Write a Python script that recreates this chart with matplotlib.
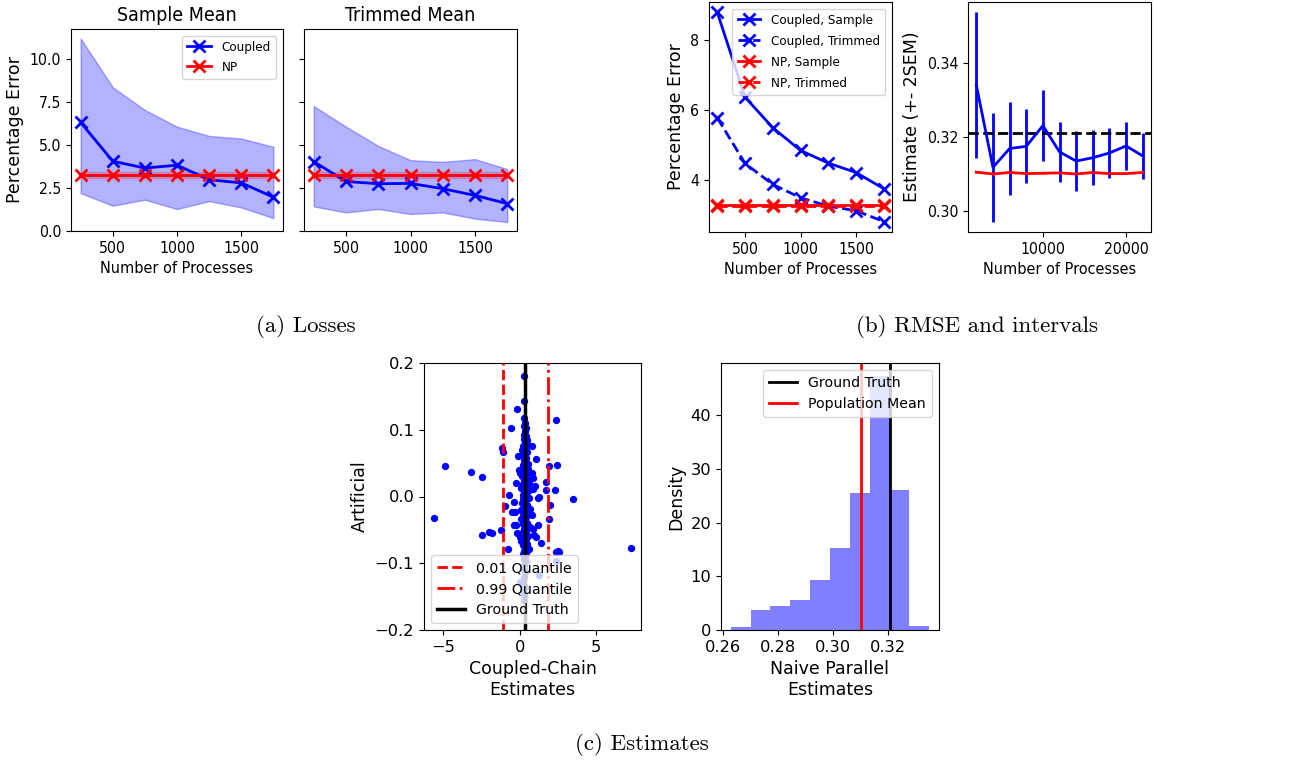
import numpy as np
import matplotlib
matplotlib.use("Agg")
import matplotlib.pyplot as plt
from matplotlib import font_manager

plt.rcParams["font.family"] = ["DejaVu Sans"]

# ---- (a) losses ----
n_proc = [250, 500, 750, 1000, 1250, 1500, 1750]
sample_coupled = [6.32, 4.06, 3.66, 3.83, 2.98, 2.80, 1.97]
sample_upper = [11.2, 8.36, 7.04, 6.07, 5.53, 5.38, 4.90]
sample_lower = [2.20, 1.47, 1.82, 1.28, 1.74, 1.37, 0.75]
trim_coupled = [4.04, 2.88, 2.75, 2.77, 2.46, 2.07, 1.59]
trim_upper = [7.27, 6.07, 4.95, 4.12, 4.02, 4.18, 3.60]
trim_lower = [1.43, 1.08, 1.28, 0.99, 1.08, 0.72, 0.52]
np_err = [3.25, 3.25, 3.25, 3.25, 3.25, 3.25, 3.25]
np_upper = [3.42, 3.42, 3.42, 3.42, 3.42, 3.42, 3.42]
np_lower = [3.08, 3.08, 3.08, 3.08, 3.08, 3.08, 3.08]

# ---- (b) RMSE and intervals ----
rmse_coupled_sample = [8.78, 6.36, 5.49, 4.84, 4.48, 4.21, 3.75]
rmse_coupled_trim = [5.77, 4.47, 3.87, 3.49, 3.25, 3.12, 2.81]
rmse_np_sample = [3.27, 3.27, 3.27, 3.27, 3.27, 3.27, 3.27]
rmse_np_trim = [3.24, 3.24, 3.24, 3.24, 3.24, 3.24, 3.24]

n_big = [2000, 4000, 6000, 8000, 10000, 12000, 14000, 16000, 18000, 20000, 22000]
est_coupled = [0.3341, 0.3118, 0.3169, 0.3175, 0.3231, 0.3160, 0.3135, 0.3144, 0.3157, 0.3176, 0.3149]
sem2_coupled = [0.0197, 0.0147, 0.0125, 0.0100, 0.0097, 0.0081, 0.0081, 0.0074, 0.0069, 0.0066, 0.0062]
est_np = [0.3105, 0.3100, 0.3104, 0.3101, 0.3102, 0.3103, 0.3100, 0.3104, 0.3101, 0.3101, 0.3104]
sem2_np = [0.0003, 0.0002, 0.0002, 0.0002, 0.0001, 0.0001, 0.0001, 0.0001, 0.0001, 0.0001, 0.0001]
ground_truth = 0.321

# ---- (c) estimates ----
scatter_x = [
    0.31, 0.26, -0.18, 2.38, -0.59, 0.81, -1.14, -1.10, -0.11, 1.09, -4.90, 1.90, 2.47,
    -3.22, -2.45, 1.69, -0.22, 2.28, 1.75, -0.70, 1.23, 3.48, 0.90, 0.77, 0.52, 0.98,
    0.87, 0.48, 0.39, 0.15, -5.63, -2.48, -2.00, -1.79, -1.25, -1.00, -0.78, -0.39,
    -0.52, -0.35, -0.33, 1.20, 1.90, 1.95, 1.18, 1.40, 0.92, 1.09, 0.87, 0.80, 0.66,
    2.40, 2.48, 2.58, 7.30, 1.25, 2.40, 0.04, 0.26, 0.37, 0.26, -0.22, -0.15, 0.00,
    -0.05, 0.00, 0.05,
    0.30, 0.33, 0.28, 0.36, 0.31, 0.42, 0.27, 0.35, 0.45, 0.24, 0.38, 0.30, 0.50, 0.20,
    0.33, 0.42, 0.26, 0.37, 0.55, 0.18, 0.31, 0.44, 0.22, 0.35, 0.60, 0.27, 0.40, 0.15,
    0.33, 0.48, 0.25, 0.38, 0.62, 0.20, 0.30, 0.45, 0.10, 0.35, 0.52, 0.25, 0.40, 0.18,
    0.32, 0.58, 0.22, 0.37, 0.12, 0.30, 0.47, 0.26, 0.40, 0.16, 0.34, 0.55, 0.23, 0.38,
    0.08, 0.31, 0.50, 0.20, 0.36, 0.65, 0.27, 0.42, 0.14, 0.33, 0.56, 0.24, 0.39, 0.10,
    0.30, 0.47, 0.20, 0.35, 0.60, 0.28, 0.42, 0.18, 0.33, 0.25, 0.38, 0.30, 0.22, 0.35,
    0.28, 0.32, 0.30, 0.20,
]
scatter_y = [
    0.180, 0.143, 0.131, 0.115, 0.103, 0.076, 0.073, 0.066, 0.060, 0.056, 0.045, 0.046, 0.047,
    0.037, 0.029, 0.021, 0.020, 0.010, 0.010, 0.002, -0.001, -0.003, 0.027, 0.035, 0.041, 0.015,
    0.011, 0.085, 0.102, 0.070, -0.032, -0.057, -0.053, -0.055, -0.050, -0.014, -0.078, -0.008,
    -0.023, -0.042, -0.023, -0.002, -0.034, -0.012, -0.042, -0.070, -0.058, -0.060, -0.048, -0.028, -0.018,
    -0.083, -0.082, -0.083, -0.077, -0.118, -0.096, -0.128, -0.148, -0.083, -0.070, -0.042, -0.055, -0.060,
    0.040, 0.035, -0.020,
    0.118, 0.110, 0.105, 0.098, 0.092, 0.090, 0.086, 0.082, 0.079, 0.075, 0.072, 0.068, 0.066, 0.063,
    0.060, 0.057, 0.054, 0.051, 0.049, 0.047, 0.045, 0.043, 0.040, 0.038, 0.036, 0.034, 0.032, 0.030,
    0.028, 0.026, 0.024, 0.022, 0.020, 0.018, 0.016, 0.014, 0.012, 0.010, 0.008, 0.006, 0.004, 0.002,
    0.000, -0.002, -0.004, -0.006, -0.009, -0.011, -0.013, -0.016, -0.019, -0.021, -0.024, -0.026, -0.029, -0.031,
    -0.034, -0.036, -0.039, -0.041, -0.044, -0.046, -0.049, -0.051, -0.054, -0.056, -0.059, -0.061, -0.064, -0.066,
    -0.068, -0.071, -0.073, -0.076, -0.078, -0.081, -0.084, -0.086, -0.089, -0.093, -0.097, -0.102, -0.108, -0.113,
    -0.120, -0.135, -0.155, -0.142,
]
q01 = -1.12
q99 = 1.86

hist_edges = [0.2629, 0.2701, 0.2773, 0.2846, 0.2918, 0.2991, 0.3063, 0.3135, 0.3207, 0.3279, 0.3351]
hist_density = [0.5, 3.7, 4.5, 5.6, 9.3, 15.2, 25.5, 47.4, 26.1, 0.75]
pop_mean = 0.3102

W, H = 1299, 763


def rect(x0, y0, x1, y1):
    return [x0 / W, 1 - y1 / H, (x1 - x0) / W, (y1 - y0) / H]


fig = plt.figure(figsize=(W / 100, H / 100), dpi=100)
ax1 = fig.add_axes(rect(71, 29, 283, 231))
ax2 = fig.add_axes(rect(304, 29, 517, 231), sharey=ax1)
ax3 = fig.add_axes(rect(709, 2, 892, 232))
ax4 = fig.add_axes(rect(968, 2, 1151, 232))
ax5 = fig.add_axes(rect(424, 363, 641, 630))
ax6 = fig.add_axes(rect(721, 363, 939, 630))

# the top row of the reference is squeezed sideways, so use the condensed face there
cond_file = font_manager.findfont(
    font_manager.FontProperties(family="DejaVu Sans", stretch="condensed"))


def condensed(size):
    return font_manager.FontProperties(fname=cond_file, size=size)


def top_ticks(ax, size):
    for lab in ax.get_xticklabels() + ax.get_yticklabels():
        lab.set_fontproperties(condensed(size))


mk = dict(marker="x", markersize=8, markeredgewidth=2, lw=2)

# losses panels
for ax, title, mean, lo, hi in [
    (ax1, "Sample Mean", sample_coupled, sample_lower, sample_upper),
    (ax2, "Trimmed Mean", trim_coupled, trim_lower, trim_upper),
]:
    ax.fill_between(n_proc, lo, hi, color="blue", alpha=0.3)
    ax.fill_between(n_proc, np_lower, np_upper, color="red", alpha=0.2)
    ax.plot(n_proc, mean, color="blue", label="Coupled", **mk)
    ax.plot(n_proc, np_err, color="red", label="NP", **mk)
    ax.set_title(title, fontproperties=condensed(14))
    ax.set_xticks([500, 1000, 1500])
ax1.set_ylim(0, 11.75)
ax1.set_yticks([0.0, 2.5, 5.0, 7.5, 10.0])
ax1.set_ylabel("Percentage Error", fontsize=12.5)
ax1.set_xlabel("Number of Processes", fontproperties=condensed(11.6))
ax2.tick_params(labelleft=False)
top_ticks(ax1, 11.3)
top_ticks(ax2, 11.3)
ax1.legend(loc="upper right", prop=condensed(9.6), handlelength=1.8)

# RMSE panel
ax3.plot(n_proc, rmse_coupled_sample, color="blue", ls="-", label="Coupled, Sample", **mk)
ax3.plot(n_proc, rmse_coupled_trim, color="blue", ls="--", label="Coupled, Trimmed", **mk)
ax3.plot(n_proc, rmse_np_sample, color="red", ls="-", label="NP, Sample", **mk)
ax3.plot(n_proc, rmse_np_trim, color="red", ls="--", label="NP, Trimmed", **mk)
ax3.set_xticks([500, 1000, 1500])
ax3.set_yticks([4, 6, 8])
top_ticks(ax3, 11.3)
ax3.set_ylabel("Percentage Error", fontsize=12.5)
ax3.set_xlabel("Number of Processes", fontproperties=condensed(11.6))
ax3.legend(loc="upper right", prop=condensed(9.6), handlelength=1.7, labelspacing=0.6)

# interval panel
ax4.errorbar(n_big, est_coupled, yerr=sem2_coupled, color="blue", lw=2, elinewidth=2)
ax4.errorbar(n_big, est_np, yerr=sem2_np, color="red", lw=2, elinewidth=2)
ax4.axhline(ground_truth, color="black", ls="--", lw=2)
ax4.set_xticks([10000, 20000])
ax4.set_yticks([0.30, 0.32, 0.34])
top_ticks(ax4, 11.3)
ax4.set_ylabel("Estimate (+- 2SEM)", fontsize=12.5)
ax4.set_xlabel("Number of Processes", fontproperties=condensed(11.6))

# scatter of coupled-chain estimates
ax5.scatter(scatter_x, scatter_y, s=18, color="blue", zorder=2)
ax5.axvline(q01, color="red", ls="--", lw=2, label="0.01 Quantile", zorder=3)
ax5.axvline(q99, color="red", ls="-.", lw=2, label="0.99 Quantile", zorder=3)
ax5.axvline(ground_truth, color="black", lw=2.5, label="Ground Truth", zorder=3)
ax5.set_ylim(-0.2, 0.2)
ax5.set_yticks([-0.2, -0.1, 0.0, 0.1, 0.2])
ax5.set_xticks([-5, 0, 5])
ax5.tick_params(labelsize=11.7)
ax5.set_ylabel("Artificial", fontsize=12.5)
ax5.set_xlabel("Coupled-Chain\nEstimates", fontsize=12.5)
ax5.legend(loc="lower left", fontsize=10.2)

# histogram of naive parallel estimates
ax6.bar(hist_edges[:-1], hist_density, width=np.diff(hist_edges), align="edge",
        color="blue", alpha=0.5)
ax6.axvline(ground_truth, color="black", lw=2, label="Ground Truth")
ax6.axvline(pop_mean, color="red", lw=2, label="Population Mean")
ax6.set_xticks([0.26, 0.28, 0.30, 0.32])
ax6.set_yticks([0, 10, 20, 30, 40])
ax6.tick_params(labelsize=11.7)
ax6.set_ylabel("Density", fontsize=12.5)
ax6.set_xlabel("Naive Parallel\nEstimates", fontsize=12.5)
ax6.legend(loc="upper right", fontsize=10.2)

# subfigure captions
cap = dict(family="cmr10", fontsize=16.5, ha="center", va="center")
fig.text(306 / W, 1 - 327 / H, "(a) Losses", **cap)
fig.text(977 / W, 1 - 327 / H, "(b) RMSE and intervals", **cap)
fig.text(642 / W, 1 - 745 / H, "(c) Estimates", **cap)

fig.savefig("out.png", dpi=100)
